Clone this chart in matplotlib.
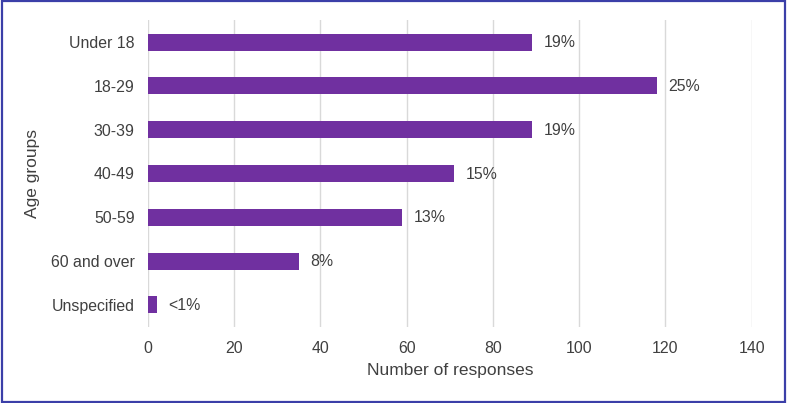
import matplotlib.pyplot as plt
from matplotlib.patches import Rectangle

plt.rcParams['font.family'] = ['Liberation Sans', 'DejaVu Sans']

groups = ["Under 18", "18-29", "30-39", "40-49", "50-59", "60 and over", "Unspecified"]
responses = [89, 118, 89, 71, 59, 35, 2]
pct_labels = ["19%", "25%", "19%", "15%", "13%", "8%", "<1%"]

txt = "#404040"

fig = plt.figure(figsize=(7.87, 4.03), dpi=100)
ax = fig.add_axes([0.188, 0.189, 0.767, 0.761])

ypos = list(range(len(groups)))
bars = ax.barh(ypos, responses, height=0.39, color="#7030A0", zorder=3)

for b, lab in zip(bars, pct_labels):
    ax.annotate(lab, (b.get_width(), b.get_y() + b.get_height() / 2),
                xytext=(8.5, -0.5), textcoords="offset points",
                ha="left", va="center", fontsize=11.4, color=txt)

ax.set_xlim(0, 140)
ax.set_ylim(len(groups) - 0.5, -0.5)
ax.set_xticks(range(0, 141, 20))
ax.set_yticks(ypos)
ax.set_yticklabels(groups)
ax.tick_params(axis="both", length=0, labelsize=11.4, labelcolor=txt)
ax.tick_params(axis="y", pad=9.5)
ax.tick_params(axis="x", pad=10)
ax.grid(axis="x", color="#d9d9d9", linewidth=1, zorder=0)
for s in ax.spines.values():
    s.set_visible(False)

ax.set_xlabel("Number of responses", fontsize=12.5, color=txt, labelpad=5)
ax.set_ylabel("Age groups", fontsize=12.5, color=txt, labelpad=8)

fig.patches.append(Rectangle((0.002, 0.003), 0.996, 0.994, transform=fig.transFigure,
                             fill=False, edgecolor="#3B3FA8", linewidth=1.6))

fig.savefig("out.png", dpi=100)
